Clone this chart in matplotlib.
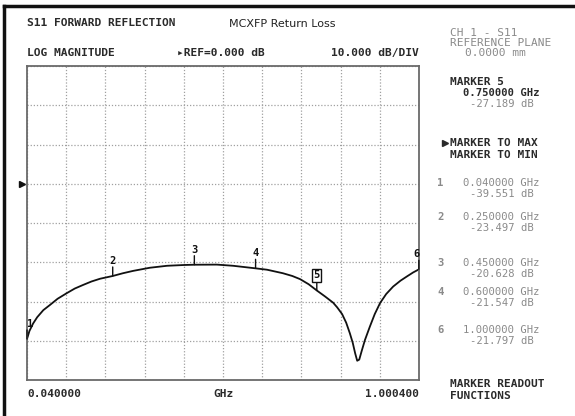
import matplotlib.pyplot as plt
from matplotlib.lines import Line2D
from matplotlib.transforms import blended_transform_factory

# trace (GHz, dB)
freq = [0.04, 0.046, 0.055, 0.065, 0.08, 0.096, 0.115, 0.137, 0.157, 0.177,
        0.198, 0.219, 0.25, 0.275, 0.30, 0.341, 0.383, 0.425, 0.45, 0.505,
        0.545, 0.60, 0.628, 0.667, 0.69, 0.709, 0.73, 0.75, 0.77, 0.79,
        0.80, 0.812, 0.822, 0.831, 0.838, 0.844, 0.849, 0.854, 0.860, 0.868,
        0.880, 0.892, 0.905, 0.92, 0.937, 0.955, 0.971, 0.986, 1.0004]
s11_db = [-39.55, -37.5, -35.6, -34.0, -32.2, -30.9, -29.3, -27.9, -26.7,
          -25.8, -24.9, -24.2, -23.5, -22.8, -22.2, -21.4, -20.9, -20.7,
          -20.63, -20.6, -20.9, -21.55, -21.9, -22.8, -23.5, -24.3, -25.6,
          -27.19, -28.7, -30.3, -31.5, -33.2, -35.4, -38.1, -40.5, -43.2,
          -45.1, -44.8, -42.6, -39.8, -36.4, -33.2, -30.4, -28.1, -26.2,
          -24.7, -23.6, -22.6, -21.8]

marker_names = ['1', '2', '3', '4', '5', '6']
marker_freq = [0.04, 0.25, 0.45, 0.60, 0.75, 1.0]
marker_db = [-39.551, -23.497, -20.628, -21.547, -27.189, -21.797]

f_start, f_stop = 0.04, 1.0004
ref_db, db_per_div = 0.0, 10.0

W, H = 575, 416
dark = '#2a2a2a'
grey = '#8a8a8a'
mono = 'DejaVu Sans Mono'

fig = plt.figure(figsize=(W / 100, H / 100), dpi=100)
fig.patch.set_facecolor('white')


def px_text(x, y, s, **kw):
    kw.setdefault('family', mono)
    kw.setdefault('fontsize', 7.6)
    kw.setdefault('va', 'center')
    fig.text(x / W, 1 - y / H, s, **kw)


# outer frame (top and left edges only)
fig.add_artist(Line2D([4 / W, 1], [1 - 6 / H, 1 - 6 / H], color='#111', lw=2.5))
fig.add_artist(Line2D([4 / W, 4 / W], [0, 1 - 6 / H], color='#111', lw=2.5))

ax = fig.add_axes([27 / W, 36 / H, 392 / W, 314 / H])
ax.plot(freq, s11_db, color='#111', lw=1.3)
ax.set_xlim(f_start, f_stop)
ax.set_ylim(ref_db - 5 * db_per_div, ref_db + 3 * db_per_div)
step = (f_stop - f_start) / 10
ax.set_xticks([f_start + i * step for i in range(11)])
ax.set_yticks([ref_db - 50 + i * db_per_div for i in range(9)])
ax.tick_params(length=0, labelbottom=False, labelleft=False)
ax.grid(True, color='#a0a0a0', lw=0.9, linestyle=(0, (1, 1.5)))
for sp in ax.spines.values():
    sp.set_color('#6a6a6a')
    sp.set_linewidth(1.3)

# reference position arrow
trans = blended_transform_factory(ax.transAxes, ax.transData)
ax.plot([-0.013], [ref_db], marker='>', ms=4, color='#111', transform=trans,
        clip_on=False)

# markers on the trace
for name, f, db in zip(marker_names, marker_freq, marker_db):
    dx = 3 if name == '1' else (-2 if name == '6' else 0)
    ax.annotate('', xy=(f, db), xytext=(0, 9), textcoords='offset pixels',
                arrowprops=dict(arrowstyle='-', color='#111', lw=1.0,
                                shrinkA=0, shrinkB=0), annotation_clip=False)
    box = None
    if name == '5':
        box = dict(boxstyle='square,pad=0.15', fc='white', ec='#111', lw=1.0)
    ax.annotate(name, xy=(f, db), xytext=(dx, 15), textcoords='offset pixels',
                ha='center', va='center', family=mono, fontsize=7.5,
                fontweight='bold', color='#111', bbox=box,
                annotation_clip=False)

# header texts
px_text(27, 23, 'S11 FORWARD REFLECTION', fontweight='bold', color=dark,
        fontsize=8.1)
px_text(282, 24, 'MCXFP Return Loss', family='DejaVu Sans', fontsize=8,
        ha='center', color='#222')
px_text(27, 53, 'LOG MAGNITUDE', fontweight='bold', color=dark, fontsize=8.1)
px_text(177, 53, '\u25b8REF=0.000 dB', fontweight='bold', color=dark,
        fontsize=8.1)
px_text(419, 53, '10.000 dB/DIV', fontweight='bold', color=dark, ha='right',
        fontsize=8.1)

# frequency axis labels
px_text(27, 394, '0.040000', fontweight='bold', color=dark, fontsize=8)
px_text(223, 394, 'GHz', fontweight='bold', color=dark, ha='center',
        fontsize=8)
px_text(419, 394, '1.000400', fontweight='bold', color=dark, ha='right',
        fontsize=8)

# right-hand softkey panel
px_text(450, 33, 'CH 1 - S11', color=grey, fontsize=8)
px_text(450, 43, 'REFERENCE PLANE', color=grey, fontsize=8)
px_text(465, 53, '0.0000 mm', color=grey, fontsize=8)

px_text(450, 82, 'MARKER 5', fontweight='bold', color=dark, fontsize=8)
px_text(463, 93, '0.750000 GHz', fontweight='bold', color=dark)
px_text(470, 104, '-27.189 dB', color=grey)

# selected softkey pointer
fig.add_artist(Line2D([445 / W], [1 - 143 / H], marker='>', ms=5,
                      color=dark, lw=0))
px_text(450, 143, 'MARKER TO MAX', fontweight='bold', color=dark, fontsize=8)
px_text(450, 155, 'MARKER TO MIN', fontweight='bold', color=dark, fontsize=8)

rows_y = [183, 217, 263, 292, 330]
for y, name, f, db in zip(rows_y, ['1', '2', '3', '4', '6'],
                          [0.04, 0.25, 0.45, 0.60, 1.0],
                          [-39.551, -23.497, -20.628, -21.547, -21.797]):
    px_text(437, y, name, fontweight='bold', color=grey)
    px_text(463, y, '%.6f GHz' % f, color=grey)
    px_text(470, y + 11, '%.3f dB' % db, color=grey)

px_text(450, 384, 'MARKER READOUT', fontweight='bold', color=dark, fontsize=8)
px_text(450, 396, 'FUNCTIONS', fontweight='bold', color=dark, fontsize=8)

fig.savefig('out.png', dpi=100)
